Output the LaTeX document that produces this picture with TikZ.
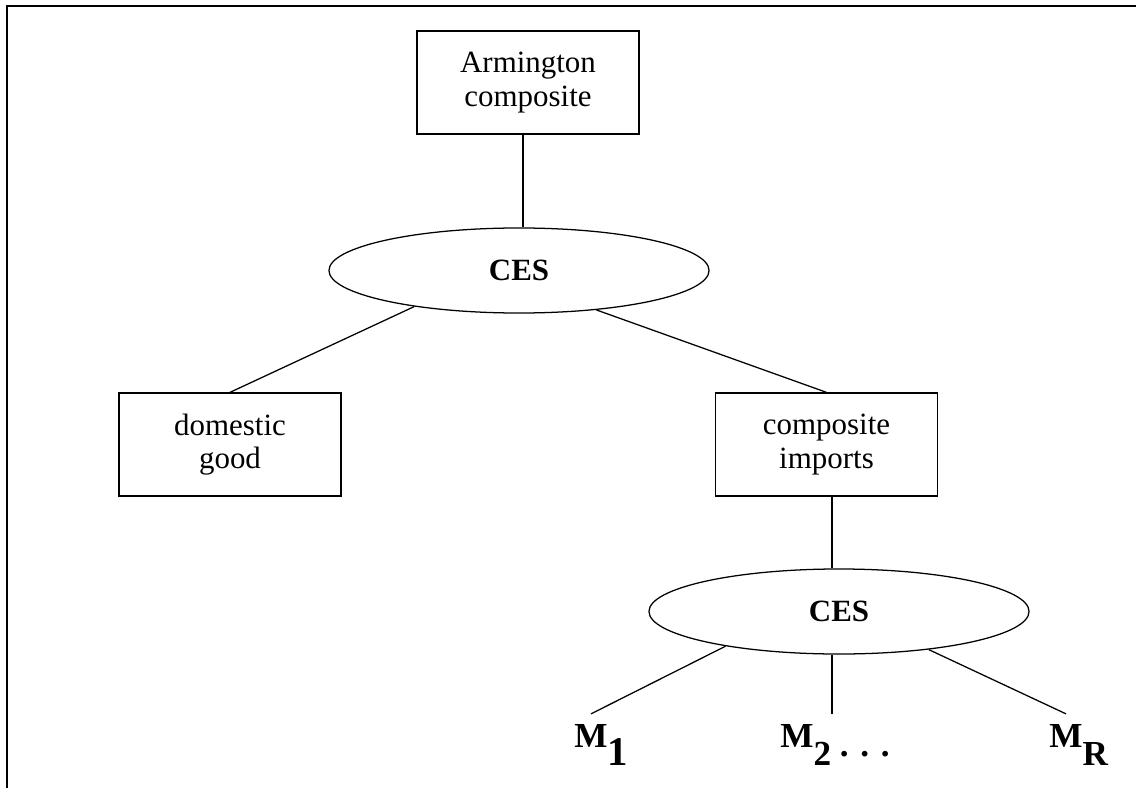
\documentclass[tikz,border=0pt]{standalone}
\usepackage{fontspec}
\setmainfont{Liberation Serif}
\usepackage{tikz}
\usetikzlibrary{shapes.geometric}
\newcommand{\msub}[1]{\lower13.5pt\hbox{#1}}

\begin{document}
\begin{tikzpicture}[x=0.025cm, y=-0.025cm,
	box/.style={draw, line width=0.9pt, minimum width=5.55cm, minimum height=2.575cm, inner sep=0pt, align=center, font=\fontsize{22}{24}\selectfont},
	ces/.style={draw, ellipse, line width=0.9pt, minimum width=9.5cm, minimum height=2.125cm, inner sep=0pt, font=\fontsize{22}{24}\selectfont\bfseries},
	mlabel/.style={anchor=base, inner sep=7pt, font=\fontsize{25}{30}\selectfont\bfseries},
	link/.style={line width=0.9pt}]
	\useasboundingbox (0, 0) rectangle (1136, 788);
	\draw[line width=1.5pt] (7, 788) -- (7, 6) -- (1136, 6);
	\coordinate (topcol) at (523, 0);
	\coordinate (botcol) at (832, 0);
	\node[box] (arm) at (528, 82.5) {Armington\\composite};
	\node[ces] (ces1) at (519, 270.5) {CES};
	\node[box] (dom) at (230, 444.5) {domestic\\good};
	\node[box] (comp) at (826.5, 444.5) {composite\\imports};
	\node[ces] (ces2) at (839, 611.5) {CES};
	\node[mlabel] (m1) at (591, 747) {M\rlap{\msub{\fontsize{29}{30}\selectfont 1}}};
	\node[mlabel] (m2) at (835, 747) {M\msub{2}\lower6.5pt\hbox{ . . .}};
	\node[mlabel] (mr) at (1066, 747) {M\rlap{\msub{R}}};
	\draw[link] (arm.south -| topcol) -- (ces1.north -| topcol);
	\draw[link] (ces1.199) -- (dom.north);
	\draw[link] (ces1.333) -- (comp.north);
	\draw[link] (comp.south -| botcol) -- (ces2.north -| botcol);
	\draw[link] (ces2.197) -- (m1.north);
	\draw[link] (ces2.south -| botcol) -- (m2.north -| botcol);
	\draw[link] (ces2.337) -- (mr.north);
\end{tikzpicture}
\end{document}
